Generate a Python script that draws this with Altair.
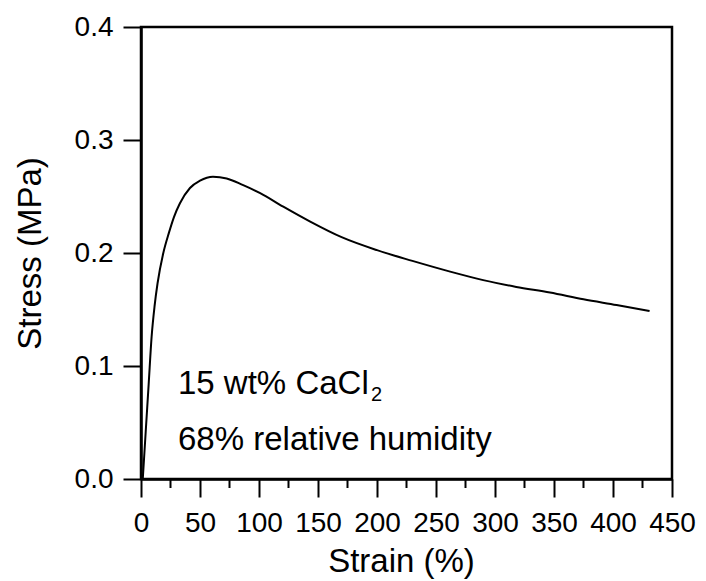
import altair as alt
import pandas as pd

# Tensile curve: strain (%) vs. stress (MPa)
strain = [1.5, 4.0, 6.5, 9.0, 11.5, 14.0, 18.9, 23.7, 28.0, 33.0, 41.5, 50.0,
          61.0, 72.6, 86.6, 101.0, 120.6, 143.0, 170.0, 200.0, 230.0, 262.0, 290.0,
          318.0, 346.6, 375.0, 403.0, 431.0]
stress = [0.0, 0.042, 0.084, 0.126, 0.153, 0.173, 0.200, 0.218, 0.232, 0.244,
          0.2575, 0.264, 0.2675, 0.266, 0.260, 0.253, 0.241, 0.228, 0.214, 0.2025,
          0.193, 0.1835, 0.176, 0.170, 0.165, 0.159, 0.154, 0.1487]

x_ticks = [0, 50, 100, 150, 200, 250, 300, 350, 400, 450]
x_minor = [25, 75, 125, 175, 225, 275, 325, 375, 425]
y_ticks = [0.0, 0.1, 0.2, 0.3, 0.4]

line1 = "15 wt% CaCl"
line1_sub = "2"
line2 = "68% relative humidity"

W, H = 531, 452
FONT = "Liberation Sans"

df = pd.DataFrame({"strain": strain, "stress": stress})

x_scale = alt.Scale(domain=[0, 450], nice=False, zero=False)
y_scale = alt.Scale(domain=[0, 0.4], nice=False)

x_axis = alt.Axis(values=x_ticks, format="d", title="Strain (%)", tickSize=18,
                  labelPadding=12, labelOverlap=False, labelFlush=False,
                  titleX=260, titleY=92, titleBaseline="alphabetic")
y_axis = alt.Axis(values=y_ticks, format=".1f", title="Stress (MPa)", tickSize=18,
                  labelPadding=10, labelOverlap=False, labelFlush=False,
                  titleX=-101, titleBaseline="alphabetic")

curve = alt.Chart(df).mark_line(color="black", strokeWidth=2, interpolate="monotone").encode(
    x=alt.X("strain:Q", scale=x_scale, axis=x_axis),
    y=alt.Y("stress:Q", scale=y_scale, axis=y_axis),
)

# Minor ticks on the strain axis, halfway between the labelled ones
minor = alt.Chart(pd.DataFrame({"strain": x_minor})).mark_rule(
    color="black", strokeWidth=2
).encode(
    x=alt.X("strain:Q", scale=x_scale, axis=x_axis),
    y=alt.value(H),
    y2=alt.value(H + 9),
)

def label(text, x, y, size):
    return alt.Chart(pd.DataFrame({"t": [text]})).mark_text(
        align="left", baseline="alphabetic", font=FONT, fontSize=size, color="black"
    ).encode(text="t:N", x=alt.value(x), y=alt.value(y))

chart = alt.layer(
    curve,
    minor,
    label(line1, 37, 367, 33),
    label(line1_sub, 230, 374, 20),
    label(line2, 37, 423, 33),
).properties(
    width=W,
    height=H,
    padding={"left": 141, "top": 27, "right": 34, "bottom": 102},
    autosize=alt.AutoSizeParams(type="none"),
).configure_view(
    stroke="black", strokeWidth=2.5
).configure_axis(
    grid=False,
    domainColor="black", domainWidth=2.5,
    tickColor="black", tickWidth=2,
    labelFont=FONT, labelFontSize=28, labelColor="black",
    titleFont=FONT, titleFontSize=33, titleFontWeight="normal", titleColor="black",
)

chart.save("out.html", embed_options={"renderer": "svg", "actions": False})
